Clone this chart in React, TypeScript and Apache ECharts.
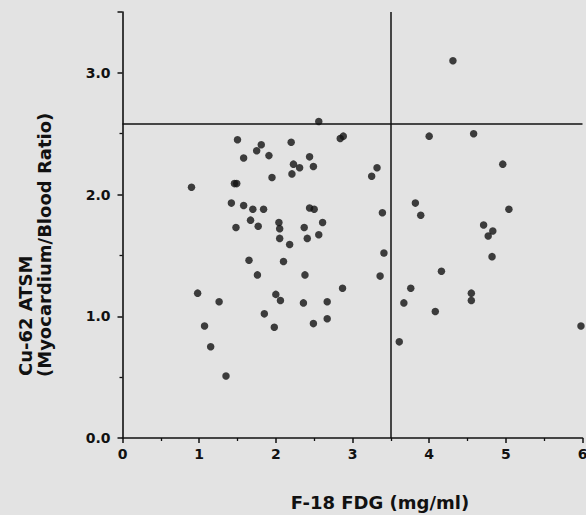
import React, { useEffect, useRef } from "react";
import * as echarts from "echarts";

// F-18 FDG (mg/ml) values
const fdgValues = [
  2.56, 2.84, 2.88, 1.5, 1.81, 1.75, 2.2, 1.58, 1.91, 2.44, 2.23, 2.31, 2.49, 2.21, 1.95, 0.9, 1.46, 1.49,
  1.42, 1.58, 1.7, 1.84, 2.44, 2.5, 1.67, 2.04, 2.05, 1.48, 1.77, 2.61, 2.37, 2.05, 2.41, 2.56, 2.18, 1.65,
  2.1, 1.76, 2.38, 2.87, 0.98, 1.26, 2.0, 2.06, 2.36, 2.67, 1.85, 1.07, 1.98, 2.49, 2.67, 1.15, 1.35,
  4.31, 4.0, 4.58, 3.32, 3.25, 4.96, 3.82, 3.39, 3.89, 5.04, 4.71, 4.83, 4.77, 4.82, 3.41, 3.36, 4.16,
  3.76, 3.67, 4.55, 4.55, 4.08, 5.98, 3.61,
];
// Cu-62 ATSM (myocardium/blood ratio) values
const atsmValues = [
  2.6, 2.46, 2.48, 2.45, 2.41, 2.36, 2.43, 2.3, 2.32, 2.31, 2.25, 2.22, 2.23, 2.17, 2.14, 2.06, 2.09, 2.09,
  1.93, 1.91, 1.88, 1.88, 1.89, 1.88, 1.79, 1.77, 1.72, 1.73, 1.74, 1.77, 1.73, 1.64, 1.64, 1.67, 1.59, 1.46,
  1.45, 1.34, 1.34, 1.23, 1.19, 1.12, 1.18, 1.13, 1.11, 1.12, 1.02, 0.92, 0.91, 0.94, 0.98, 0.75, 0.51,
  3.1, 2.48, 2.5, 2.22, 2.15, 2.25, 1.93, 1.85, 1.83, 1.88, 1.75, 1.7, 1.66, 1.49, 1.52, 1.33, 1.37,
  1.23, 1.11, 1.19, 1.13, 1.04, 0.92, 0.79,
];
const fdgCutoff = 3.5;
const atsmCutoff = 2.58;
const xTitle = "F-18 FDG (mg/ml)";
const yTitleLine1 = "Cu-62 ATSM";
const yTitleLine2 = "(Myocardium/Blood Ratio)";

const FONT = "DejaVu Sans";
const INK = "#111111";

export default function App() {
  const ref = useRef<HTMLDivElement>(null);
  useEffect(() => {
    document.body.style.margin = "0";
    const chart = echarts.init(ref.current!, null, { renderer: "svg" });
    const points = fdgValues.map((x, i) => [x, atsmValues[i]]);
    chart.setOption({
      animation: false,
      backgroundColor: "#e3e3e3",
      grid: { left: 122.5, right: 3.5, top: 12, bottom: 77, outerBoundsMode: "none", containLabel: false },
      xAxis: {
        type: "value",
        min: 0,
        max: 6,
        interval: 1,
        axisLine: { lineStyle: { color: INK, width: 1.6 } },
        axisTick: { show: true, length: 5, lineStyle: { color: INK, width: 1.5 } },
        minorTick: { show: true, splitNumber: 2, length: 3, lineStyle: { color: INK, width: 1.3 } },
        splitLine: { show: false },
        axisLabel: {
          color: INK,
          fontFamily: FONT,
          fontWeight: "bold",
          fontSize: 14,
          margin: 9,
        },
      },
      yAxis: {
        type: "value",
        min: 0,
        max: 3.5,
        interval: 1,
        axisLine: { lineStyle: { color: INK, width: 1.6 } },
        axisTick: { show: true, length: 5, lineStyle: { color: INK, width: 1.5 } },
        minorTick: { show: true, splitNumber: 2, length: 3, lineStyle: { color: INK, width: 1.3 } },
        splitLine: { show: false },
        axisLabel: {
          color: INK,
          fontFamily: FONT,
          fontWeight: "bold",
          fontSize: 14,
          margin: 12,
          formatter: (v: number) => (Number.isInteger(v) ? v.toFixed(1) : ""),
        },
      },
      graphic: [
        {
          type: "text",
          x: 380,
          y: 502,
          style: {
            text: xTitle,
            fill: INK,
            font: `bold 18px "${FONT}"`,
            align: "center",
            verticalAlign: "middle",
          },
        },
        {
          type: "text",
          x: 25,
          y: 376,
          rotation: Math.PI / 2,
          style: {
            text: yTitleLine1,
            fill: INK,
            font: `bold 18px "${FONT}"`,
            align: "left",
            verticalAlign: "middle",
          },
        },
        {
          type: "text",
          x: 44,
          y: 377,
          rotation: Math.PI / 2,
          style: {
            text: yTitleLine2,
            fill: INK,
            font: `bold 18px "${FONT}"`,
            align: "left",
            verticalAlign: "middle",
          },
        },
      ],
      series: [
        {
          type: "scatter",
          data: points,
          symbol: "circle",
          symbolSize: 7.5,
          clip: false,
          itemStyle: { color: INK },
          markLine: {
            silent: true,
            symbol: "none",
            label: { show: false },
            lineStyle: { color: INK, width: 1.5, type: "solid" },
            data: [{ xAxis: fdgCutoff }, { yAxis: atsmCutoff }],
          },
        },
      ],
    });
    return () => chart.dispose();
  }, []);
  return <div ref={ref} style={{ width: 586, height: 515 }} />;
}
